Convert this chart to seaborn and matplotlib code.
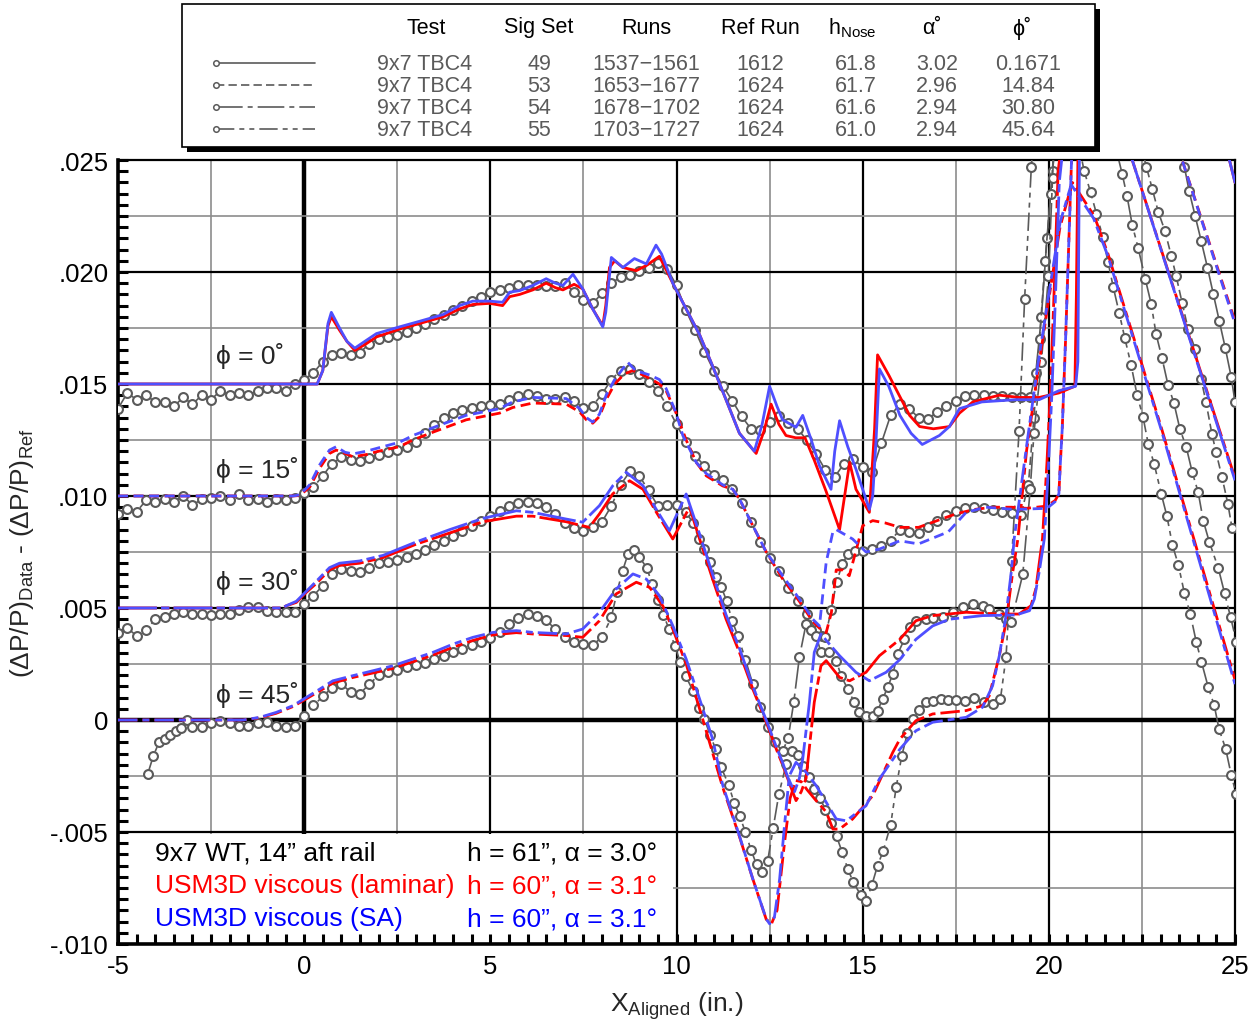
import numpy as np
import matplotlib
matplotlib.use("Agg")
import matplotlib.pyplot as plt
import seaborn as sns
from matplotlib.patches import Rectangle
from matplotlib.ticker import MultipleLocator, FixedLocator, FixedFormatter

sns.set_theme(style="white")
plt.rcParams["font.family"] = ["Liberation Sans", "DejaVu Sans"]
plt.rcParams["mathtext.fontset"] = "custom"
plt.rcParams["mathtext.rm"] = "Liberation Sans"
plt.rcParams["mathtext.it"] = "Liberation Sans:italic"

# values are dP/P in units of 1e-3, already shifted by the phi offset shown on the chart
# 9x7 TBC4 wind tunnel data, one list per roll angle
test_0 = [(-5.0,13.9),(-4.75,14.6),(-4.5,14.3),(-4.25,14.5),(-4.0,14.2),(-3.75,14.2),(-3.5,14.0),(-3.25,14.4),(-3.0,14.1),(-2.75,14.5),
          (-2.5,14.3),(-2.25,14.7),(-2.0,14.5),(-1.75,14.6),(-1.5,14.5),(-1.25,14.7),(-1.0,14.8),(-0.75,14.8),(-0.5,14.7),(-0.25,15.0),
          (0.0,15.2),(0.25,15.5),(0.5,16.0),(0.75,16.3),(1.0,16.4),(1.25,16.3),(1.5,16.4),(1.75,16.8),(2.0,17.0),(2.25,17.1),
          (2.5,17.2),(2.75,17.3),(3.0,17.5),(3.25,17.7),(3.5,17.9),(3.75,18.1),(4.0,18.3),(4.25,18.5),(4.5,18.7),(4.75,18.9),
          (5.0,19.1),(5.25,19.2),(5.5,19.3),(5.75,19.4),(6.0,19.42),(6.25,19.4),(6.5,19.38),(6.75,19.37),(7.0,19.5),(7.25,19.1),
          (7.5,18.75),(7.75,18.6),(8.0,19.05),(8.25,19.5),(8.5,19.78),(8.75,19.88),(9.0,20.05),(9.25,20.2),(9.5,20.4),(9.75,20.15),
          (10.0,19.4),(10.25,18.3),(10.5,17.4),(10.75,16.45),(11.0,15.6),(11.25,14.9),(11.5,14.25),(11.75,13.55),(12.0,13.0),(12.25,12.95),
          (12.5,13.3),(12.75,13.55),(13.0,13.28),(13.25,13.0),(13.5,12.5),(13.75,11.88),(14.0,11.15),(14.25,10.85),(14.5,11.45),(14.75,11.63),
          (15.0,11.3),(15.25,11.05),(15.5,12.35),(15.75,13.6),(16.0,14.1),(16.25,13.9),(16.5,13.5),(16.75,13.44),(17.0,13.75),(17.25,14.0),
          (17.5,14.25),(17.75,14.45),(18.0,14.52),(18.25,14.53),(18.5,14.48),(18.75,14.46),(19.0,14.42),(19.25,14.4),(19.5,14.4),
          (19.65,15.5),(19.8,18.0),(19.95,21.5),(20.1,24.5),(20.3,28.0),(21.5,40.0),
          (23.64,24.7),(23.77,23.6),(23.93,22.5),(24.09,21.4),(24.26,20.2),(24.42,19.0),(24.58,17.8),(24.74,16.6),(24.9,15.3),(25.0,14.2)]

test_15 = [(-5.0,9.2),(-4.75,9.4),(-4.5,9.3),(-4.25,9.8),(-4.0,9.75),(-3.75,9.85),(-3.5,9.75),(-3.25,10.0),(-3.0,9.6),(-2.75,9.85),
           (-2.5,9.9),(-2.25,10.0),(-2.0,9.8),(-1.75,10.1),(-1.5,9.8),(-1.25,9.85),(-1.0,9.75),(-0.75,9.85),(-0.5,9.8),(-0.25,9.9),
           (0.0,10.15),(0.25,10.4),(0.5,10.9),(0.75,11.45),(1.0,11.72),(1.25,11.6),(1.5,11.55),(1.75,11.7),(2.0,11.85),(2.25,11.95),
           (2.5,12.05),(2.75,12.2),(3.0,12.4),(3.25,12.8),(3.5,13.15),(3.75,13.5),(4.0,13.7),(4.25,13.85),(4.5,13.95),(4.75,14.0),
           (5.0,14.05),(5.25,14.1),(5.5,14.3),(5.75,14.45),(6.0,14.55),(6.25,14.45),(6.5,14.35),(6.75,14.33),(7.0,14.4),(7.25,14.22),
           (7.5,13.95),(7.75,14.03),(8.0,14.55),(8.25,15.2),(8.5,15.6),(8.75,15.65),(9.0,15.45),(9.25,15.1),(9.5,14.7),(9.75,14.0),
           (10.0,13.2),(10.25,12.4),(10.5,11.8),(10.75,11.35),(11.0,10.95),(11.25,10.7),(11.5,10.3),(11.75,9.7),(12.0,8.85),(12.25,7.95),
           (12.5,7.25),(12.75,6.65),(13.0,5.9),(13.25,5.3),(13.5,4.75),(13.75,4.0),(13.9,3.75),(14.0,3.7),(14.15,4.9),(14.3,6.15),
           (14.45,6.95),(14.6,7.4),(14.8,7.56),(15.0,7.56),(15.25,7.63),(15.5,7.75),(15.75,8.0),(16.0,8.5),(16.25,8.4),(16.5,8.35),
           (16.75,8.6),(17.0,8.9),(17.25,9.15),(17.5,9.35),(17.75,9.48),(18.0,9.5),(18.25,9.45),(18.5,9.38),(18.75,9.28),(19.0,9.22),(19.25,9.15),
           (19.45,10.5),(19.6,13.5),(19.75,17.0),(19.9,20.5),(20.05,23.5),(20.2,27.0),(21.0,36.0),
           (22.62,24.69),(22.78,23.7),(22.94,22.68),(23.12,21.83),(23.29,20.71),(23.42,19.82),(23.58,18.62),(23.74,17.46),
           (23.93,16.56),(24.09,15.22),(24.22,14.2),(24.38,12.77),(24.49,11.96),(24.65,10.85),(24.81,9.64),(24.92,8.57)]

test_30 = [(-5.0,3.9),(-4.75,4.1),(-4.5,3.76),(-4.25,4.0),(-4.0,4.5),(-3.75,4.6),(-3.5,4.75),(-3.25,4.8),(-3.0,4.73),(-2.75,4.75),
           (-2.5,4.7),(-2.25,4.73),(-2.0,4.75),(-1.75,4.9),(-1.5,5.05),(-1.25,5.05),(-1.0,4.85),(-0.75,4.8),(-0.5,4.8),(-0.25,4.81),
           (0.0,5.2),(0.25,5.55),(0.5,6.0),(0.75,6.5),(1.0,6.74),(1.25,6.65),(1.5,6.6),(1.75,6.8),(2.0,7.0),(2.25,7.07),
           (2.5,7.15),(2.75,7.28),(3.0,7.4),(3.25,7.6),(3.5,7.8),(3.75,8.0),(4.0,8.2),(4.25,8.45),(4.5,8.65),(4.75,8.9),
           (5.0,9.1),(5.25,9.34),(5.5,9.55),(5.75,9.7),(6.0,9.75),(6.25,9.7),(6.5,9.5),(6.75,9.2),(7.0,8.8),(7.25,8.55),
           (7.5,8.45),(7.75,8.6),(8.0,8.85),(8.25,9.55),(8.5,10.5),(8.75,11.1),(9.0,10.9),(9.25,10.25),(9.5,9.55),(9.75,9.58),
           (10.0,9.6),(10.25,9.27),(10.45,8.8),(10.6,8.1),(10.75,7.63),(10.9,7.04),(11.05,6.4),(11.2,5.95),(11.35,5.3),(11.5,4.4),
           (11.65,3.76),(11.85,2.7),(12.05,1.6),(12.25,0.6),(12.45,-0.3),(12.65,-1.0),(12.85,-1.4),(13.0,-0.8),(13.15,0.8),(13.3,2.8),
           (13.48,4.29),(13.62,4.0),(13.75,3.76),(13.88,3.02),(14.1,3.02),(14.29,2.65),(14.42,1.98),(14.6,1.38),(14.78,0.79),(14.91,0.34),
           (15.09,0.19),(15.27,0.19),(15.4,0.42),(15.54,0.94),(15.67,1.46),(15.81,2.05),(15.94,2.95),(16.12,3.6),(16.26,4.14),(16.43,4.43),
           (16.7,4.5),(16.9,4.55),(17.15,4.58),(17.42,4.81),(17.69,5.03),(17.96,5.18),(18.22,5.1),(18.4,4.96),(18.67,4.73),(18.85,4.51),(18.99,4.39),
           (19.3,6.5),(19.5,10.3),(19.6,12.8),(19.8,16.0),(19.99,19.8),(20.1,24.2),(20.2,28.0),(20.7,33.0),
           (21.97,24.38),(22.1,23.39),(22.24,22.1),(22.4,21.07),(22.59,19.69),(22.75,18.57),(22.88,17.23),(23.04,16.16),(23.2,14.96),(23.36,14.15),
           (23.52,12.99),(23.69,12.19),(23.85,11.07),(24.01,10.18),(24.15,8.88),(24.31,7.95),(24.55,6.79),(24.72,5.67),(24.88,4.6),(25.04,3.48)]

test_45 = [(-4.2,-2.4),(-4.05,-1.6),(-3.9,-1.0),(-3.75,-0.85),(-3.6,-0.65),(-3.45,-0.5),(-3.3,-0.35),(-3.15,0.0),(-3.0,-0.3),(-2.75,-0.3),
           (-2.5,-0.15),(-2.25,-0.05),(-2.0,-0.15),(-1.75,-0.25),(-1.5,-0.25),(-1.25,-0.15),(-1.0,-0.1),(-0.75,-0.25),(-0.5,-0.3),(-0.25,-0.25),
           (0.0,0.2),(0.25,0.65),(0.5,1.05),(0.75,1.45),(1.0,1.6),(1.25,1.25),(1.5,1.18),(1.75,1.6),(2.0,2.0),(2.25,2.15),
           (2.5,2.25),(2.75,2.35),(3.0,2.45),(3.25,2.55),(3.5,2.72),(3.75,2.87),(4.0,3.02),(4.25,3.18),(4.5,3.33),(4.75,3.5),
           (5.0,3.65),(5.25,3.91),(5.5,4.27),(5.75,4.55),(6.0,4.72),(6.25,4.65),(6.5,4.45),(6.75,4.05),(7.0,3.7),(7.25,3.5),
           (7.5,3.4),(7.75,3.35),(8.0,3.7),(8.25,4.58),(8.4,5.7),(8.55,6.65),(8.7,7.42),(8.85,7.6),(9.0,7.28),(9.2,6.8),
           (9.35,6.05),(9.5,5.35),(9.65,4.7),(9.8,4.05),(9.95,3.32),(10.1,2.6),(10.25,1.95),(10.45,1.28),(10.6,0.55),(10.75,0.04),
           (10.9,-0.65),(11.05,-1.3),(11.2,-2.11),(11.4,-2.9),(11.55,-3.7),(11.7,-4.3),(11.85,-5.0),(12.0,-5.8),(12.15,-6.45),(12.3,-6.8),
           (12.45,-6.28),(12.6,-4.8),(12.75,-3.3),(12.95,-1.95),(13.1,-1.4),(13.25,-1.58),(13.4,-2.05),(13.55,-2.55),(13.7,-3.1),(13.85,-3.48),
           (14.0,-4.0),(14.15,-4.6),(14.3,-5.2),(14.45,-5.9),(14.6,-6.65),(14.75,-7.25),(14.95,-7.82),(15.1,-8.07),(15.25,-7.35),(15.4,-6.5),
           (15.55,-5.85),(15.75,-4.7),(15.9,-3.0),(16.05,-1.6),(16.2,-0.6),(16.35,0.05),(16.5,0.45),(16.7,0.79),(16.9,0.86),(17.1,0.94),
           (17.3,0.9),(17.5,0.88),(17.75,0.86),(18.0,1.0),(18.25,0.82),(18.5,0.71),(18.7,0.94),(18.85,2.8),(19.0,7.1),(19.2,12.9),
           (19.35,18.8),(19.53,24.7),(19.7,28.5),(20.15,31.0),
           (20.95,24.5),(21.12,23.57),(21.28,22.6),(21.45,21.56),(21.59,20.45),(21.73,19.33),(21.89,18.17),(22.04,17.05),(22.21,15.85),
           (22.37,14.51),(22.53,13.53),(22.67,12.32),(22.83,11.43),(23.02,10.09),(23.17,9.11),(23.32,7.81),(23.48,6.92),(23.64,5.67),
           (23.8,4.73),(23.96,3.48),(24.1,2.59),(24.28,1.47),(24.44,0.67),(24.57,-0.4),(24.75,-1.29),(24.9,-2.46),(25.03,-3.3)]

# USM3D viscous, laminar (red)
lam_0 = [(-5.0,15.0),(0.35,15.0),(0.5,15.6),(0.64,17.6),(0.73,18.0),(0.95,17.4),(1.15,16.9),(1.36,16.5),(1.67,16.8),(1.94,17.1),
         (2.56,17.45),(3.1,17.7),(3.73,18.0),(4.17,18.35),(4.53,18.55),(4.98,18.6),(5.33,18.5),(5.52,18.9),(5.79,19.0),(6.14,19.2),
         (6.5,19.5),(6.75,19.3),(6.95,19.2),(7.25,19.45),(7.48,19.25),(7.75,18.35),(8.02,17.6),(8.1,18.5),(8.2,20.2),(8.34,20.5),
         (8.56,20.2),(8.92,20.06),(9.2,20.3),(9.54,20.7),(9.9,19.5),(10.26,18.35),(10.62,17.2),(10.97,15.8),(11.33,14.3),(11.69,12.8),
         (12.14,11.9),(12.35,12.9),(12.54,14.1),(12.75,13.2),(12.94,12.7),(13.2,12.6),(13.45,12.6),(13.7,11.6),(14.02,10.2),(14.38,8.5),
         (14.65,11.5),(14.82,10.3),(15.18,9.27),(15.32,13.0),(15.4,16.3),(15.7,15.4),(15.98,14.5),(16.26,13.6),(16.53,13.1),(16.9,13.0),
         (17.33,13.1),(17.6,13.7),(17.96,14.2),(18.67,14.5),(19.2,14.4),(19.74,14.4),(20.27,14.6),(20.7,14.9),(20.74,19.0),(20.78,25.0),
         (20.85,30.0),(22.8,36.0),(24.85,25.0),(25.0,24.0)]
lam_15 = [(-5.0,10.0),(-0.3,10.0),(-0.12,10.02),(0.15,10.4),(0.42,11.25),(0.68,11.9),(0.86,12.05),(1.1,11.9),(1.31,11.75),(1.67,11.85),
          (2.0,12.0),(2.56,12.2),(2.92,12.5),(3.46,12.85),(4.35,13.4),(5.25,13.7),(5.6,13.95),(6.14,14.15),(7.04,14.1),(7.4,13.75),
          (7.58,13.4),(7.75,13.25),(7.93,13.55),(8.11,14.3),(8.34,15.0),(8.6,15.45),(8.83,15.6),(9.1,15.4),(9.28,15.25),(9.54,15.0),
          (9.72,14.7),(9.99,13.7),(10.26,12.5),(10.53,11.5),(10.8,10.9),(11.24,10.45),(11.51,10.3),(11.69,9.87),(11.96,8.97),(12.41,7.5),
          (12.85,6.3),(13.3,5.3),(13.66,4.4),(13.9,4.0),(14.02,3.9),(14.16,4.8),(14.29,6.7),(14.46,6.7),(14.64,6.44),(15.0,8.67),
          (15.27,8.9),(15.6,8.8),(16.0,8.6),(16.5,8.6),(17.0,8.9),(17.5,9.2),(18.0,9.4),(18.5,9.5),(19.0,9.5),(19.4,9.45),
          (19.95,9.55),(20.17,9.8),(20.27,10.1),(20.31,11.5),(20.36,13.0),(20.45,17.0),(20.55,22.0),(20.65,27.0),(21.6,35.0),(23.58,25.0),(25.0,17.8)]
lam_30 = [(-5.0,5.0),(-0.6,5.0),(-0.48,5.1),(-0.21,5.25),(0.06,5.7),(0.33,6.1),(0.68,6.7),(0.95,6.9),(1.49,7.0),(2.12,7.25),
          (3.01,7.85),(3.91,8.35),(4.8,8.85),(5.7,9.1),(6.14,9.1),(7.04,8.85),(7.4,8.7),(7.66,8.6),(7.93,9.2),(8.29,10.1),
          (8.74,10.68),(9.1,10.3),(9.45,9.3),(9.9,8.08),(10.35,9.5),(10.62,8.08),(10.97,6.29),(11.33,4.51),(11.69,3.02),(12.05,1.38),
          (12.41,-0.1),(12.68,-1.3),(12.85,-2.0),(13.05,-2.9),(13.21,-3.6),(13.35,-3.2),(13.48,-2.6),(13.7,0.79),(13.88,2.42),(14.02,2.65),
          (14.38,1.9),(14.65,1.75),(15.09,2.13),(15.45,2.87),(16.0,3.6),(16.43,4.43),(16.88,4.66),(17.78,4.81),(18.67,4.73),(19.2,4.73),
          (19.52,5.1),(19.65,5.85),(19.83,8.1),(19.95,11.5),(20.05,15.0),(20.15,19.5),(20.25,24.5),(20.8,32.0),(22.24,25.0),(25.0,10.8)]
lam_45 = [(-5.0,0.0),(-1.64,0.0),(-1.19,0.1),(-0.75,0.3),(-0.3,0.6),(0.06,0.95),(0.42,1.3),(0.77,1.65),(1.31,1.9),(1.85,2.1),
          (2.38,2.3),(2.92,2.6),(3.46,2.9),(4.0,3.25),(4.53,3.55),(5.07,3.8),(5.7,3.9),(6.14,3.84),(7.04,3.77),(7.48,3.69),
          (7.93,4.43),(8.38,5.63),(8.92,6.15),(9.28,5.92),(9.63,5.1),(9.9,4.06),(10.26,2.5),(10.8,-0.5),(11.24,-3.0),(11.69,-5.2),
          (12.05,-7.1),(12.41,-8.9),(12.55,-9.1),(12.7,-8.5),(12.9,-5.5),(13.05,-3.5),(13.2,-2.7),(13.35,-2.75),(13.5,-3.1),(13.75,-3.6),
          (14.02,-4.1),(14.2,-4.87),(14.38,-4.87),(14.73,-4.42),(15.27,-3.38),(15.81,-1.44),(16.0,-0.85),(16.43,-0.03),(16.88,0.27),(17.78,0.42),
          (18.22,0.64),(18.4,1.08),(18.67,2.87),(18.85,4.36),(19.03,6.6),(19.17,8.1),(19.4,12.0),(19.7,15.5),(20.0,18.8),(20.3,22.0),
          (20.63,24.0),(21.22,22.5),(21.59,20.8),(23.03,13.0),(25.0,1.8)]

# USM3D viscous, SA turbulence model (blue)
sa_0 = [(-5.0,15.0),(0.35,15.0),(0.5,15.6),(0.64,17.7),(0.73,18.2),(0.95,17.5),(1.15,16.9),(1.36,16.6),(1.67,16.95),(1.94,17.25),
        (2.56,17.55),(3.1,17.8),(3.73,18.1),(4.17,18.5),(4.53,18.7),(4.98,18.7),(5.33,18.65),(5.52,19.1),(5.79,19.17),(6.14,19.4),
        (6.5,19.7),(6.75,19.5),(6.95,19.4),(7.22,19.9),(7.48,19.25),(7.75,18.35),(8.02,17.55),(8.1,18.2),(8.25,20.65),(8.56,20.2),
        (8.87,20.6),(9.19,20.36),(9.45,21.2),(9.6,20.8),(9.9,19.5),(10.26,18.35),(10.62,17.2),(10.97,15.8),(11.33,14.3),(11.69,12.8),
        (12.09,12.0),(12.3,13.2),(12.5,14.9),(12.7,14.0),(12.85,13.4),(13.21,13.07),(13.39,13.6),(13.6,12.6),(13.84,11.35),(14.15,10.3),
        (14.25,12.0),(14.38,13.36),(14.6,12.2),(14.82,11.2),(15.18,9.4),(15.27,10.0),(15.36,12.5),(15.45,15.67),(15.7,14.9),(16.0,13.6),
        (16.3,12.8),(16.6,12.3),(17.06,12.7),(17.33,13.1),(17.6,13.9),(18.2,14.2),(19.1,14.3),(19.74,14.3),(20.27,14.7),(20.72,14.9),
        (20.78,16.0),(20.82,25.0),(20.86,30.0),(22.8,36.0),(24.85,25.0),(25.0,24.0)]
sa_15 = [(-5.0,10.0),(-0.3,10.0),(-0.12,10.05),(0.15,10.5),(0.42,11.4),(0.68,12.05),(0.86,12.2),(1.1,11.95),(1.31,11.88),(1.67,12.0),
         (2.0,12.15),(2.56,12.4),(2.92,12.7),(3.46,13.05),(4.35,13.6),(5.25,13.9),(5.6,14.2),(6.14,14.4),(7.04,14.35),(7.4,13.9),
         (7.58,13.5),(7.75,13.3),(7.93,13.65),(8.11,14.5),(8.34,15.2),(8.69,15.97),(8.9,15.6),(9.28,15.4),(9.54,15.2),(9.72,14.8),
         (9.99,13.7),(10.17,12.7),(10.53,11.5),(10.8,11.0),(11.24,10.5),(11.51,10.3),(11.69,9.87),(11.96,8.97),(12.41,7.5),(12.85,6.44),
         (13.3,5.4),(13.66,4.5),(13.84,4.2),(14.02,7.04),(14.2,8.4),(14.29,8.5),(14.5,8.3),(14.73,8.08),(15.09,7.5),(15.45,7.63),
         (16.0,8.0),(16.5,7.86),(17.3,8.4),(17.78,9.27),(18.3,9.5),(19.1,9.4),(19.95,9.45),(20.17,9.75),(20.27,10.1),(20.31,11.5),
         (20.36,13.0),(20.45,17.0),(20.55,22.0),(20.65,27.0),(21.6,35.0),(23.58,25.0),(25.0,17.7)]
sa_30 = [(-5.0,5.0),(-0.6,5.0),(-0.48,5.1),(-0.21,5.3),(0.06,5.75),(0.33,6.2),(0.68,6.8),(0.95,7.0),(1.49,7.1),(2.12,7.35),
         (3.01,7.95),(3.91,8.5),(4.8,9.0),(5.7,9.34),(6.14,9.27),(7.04,8.97),(7.48,8.83),(7.93,9.57),(8.29,10.46),(8.65,11.06),
         (9.1,10.46),(9.45,9.42),(9.81,8.45),(10.26,10.09),(10.62,8.3),(10.97,6.5),(11.33,4.7),(11.69,3.2),(12.05,1.5),(12.41,0.0),
         (12.68,-1.2),(12.85,-1.9),(13.0,-2.6),(13.17,-3.2),(13.3,-2.6),(13.39,-1.74),(13.57,0.79),(13.7,3.02),(13.88,3.84),(14.1,3.4),
         (14.38,2.87),(14.82,2.13),(15.18,1.75),(15.63,2.13),(16.0,2.7),(16.43,3.6),(16.88,4.2),(17.33,4.5),(18.22,4.66),(19.12,4.69),
         (19.48,4.88),(19.61,5.4),(19.74,6.6),(19.88,8.1),(19.98,11.0),(20.08,14.5),(20.18,19.0),(20.28,24.0),(20.8,32.0),(22.24,25.0),(25.0,10.7)]
sa_45 = [(-5.0,0.0),(-1.64,0.0),(-1.19,0.12),(-0.75,0.34),(-0.3,0.64),(0.06,1.01),(0.42,1.38),(0.77,1.75),(1.31,1.98),(1.85,2.2),
         (2.38,2.42),(2.92,2.72),(3.46,3.02),(4.0,3.39),(4.53,3.69),(5.07,3.91),(5.7,3.99),(6.14,3.91),(7.04,3.84),(7.48,4.06),
         (7.93,4.81),(8.38,5.85),(8.83,6.52),(9.19,6.29),(9.54,5.55),(9.9,4.21),(10.26,2.72),(10.62,0.94),(10.97,-0.85),(11.24,-2.9),
         (11.69,-5.17),(12.05,-7.1),(12.41,-8.88),(12.5,-9.1),(12.63,-8.8),(12.77,-7.1),(12.9,-4.72),(13.03,-2.49),(13.21,-1.89),(13.48,-2.33),
         (13.75,-2.93),(14.02,-3.67),(14.29,-4.42),(14.56,-4.5),(15.09,-3.83),(15.45,-2.63),(16.0,-1.3),(16.43,-0.48),(16.88,-0.1),(17.78,0.12),
         (18.22,0.57),(18.49,1.53),(18.67,2.87),(18.85,4.66),(18.99,6.6),(19.07,8.1),(19.4,12.2),(19.7,15.8),(20.0,19.0),(20.3,22.2),
         (20.6,23.9),(21.2,22.4),(21.59,20.7),(23.03,12.9),(25.0,1.6)]

# legend table
leg_test = ["9x7 TBC4", "9x7 TBC4", "9x7 TBC4", "9x7 TBC4"]
leg_sig = ["49", "53", "54", "55"]
leg_runs = ["1537\u22121561", "1653\u22121677", "1678\u22121702", "1703\u22121727"]
leg_ref = ["1612", "1624", "1624", "1624"]
leg_h = ["61.8", "61.7", "61.6", "61.0"]
leg_alpha = ["3.02", "2.96", "2.94", "2.94"]
leg_phi = ["0.1671", "14.84", "30.80", "45.64"]

phi_labels = ["\u03d5 = 0\u02da", "\u03d5 = 15\u02da", "\u03d5 = 30\u02da", "\u03d5 = 45\u02da"]

GRAY = "#5a5a5a"
RED = "#ff0000"
BLUE = "#4f4fff"
test_styles = ["-", (0, (5, 2.5)), (0, (16, 3, 3, 3)), (0, (11, 3, 3, 3, 3, 3))]
cfd_styles = ["-", (0, (3.6, 2.0)), (0, (14, 1.5, 3, 1.5)), (0, (7, 1.8, 2.5, 1.8))]

fig = plt.figure(figsize=(12.56, 10.2), dpi=100)
ax = fig.add_axes([118 / 1256, 75 / 1020, 1117 / 1256, 784 / 1020])
ax.set_axisbelow(False)


def draw(pts, **kw):
    xs, ys = zip(*pts)
    sns.lineplot(x=np.array(xs), y=np.array(ys) / 1000.0, estimator=None, sort=False,
                 ax=ax, legend=False, **kw)


for pts, ls in zip([test_0, test_15, test_30, test_45], test_styles):
    draw(pts, color=GRAY, lw=1.2, linestyle=ls, marker="o", markersize=6.4,
         markerfacecolor="white", markeredgecolor=GRAY, markeredgewidth=1.5, zorder=3)
for pts, ls in zip([lam_0, lam_15, lam_30, lam_45], cfd_styles):
    draw(pts, color=RED, lw=2.0, linestyle=ls, zorder=4)
for pts, ls in zip([sa_0, sa_15, sa_30, sa_45], cfd_styles):
    draw(pts, color=BLUE, lw=2.0, linestyle=ls, zorder=5)

# grid
for v in [-2.5, 2.5, 7.5, 12.5, 17.5, 22.5]:
    ax.axvline(v, color="#8c8c8c", lw=1.2, zorder=1)
for v in [5, 10, 15, 20]:
    ax.axvline(v, color="black", lw=1.6, zorder=1)
ax.axvline(0, color="black", lw=3.2, zorder=1)
for v in [0.0225, 0.0175, 0.0125, 0.0075, 0.0025, -0.0025, -0.0075]:
    ax.axhline(v, color="#8c8c8c", lw=1.2, zorder=1)
for v in [0.020, 0.015, 0.010, 0.005, -0.005]:
    ax.axhline(v, color="black", lw=1.6, zorder=1)
ax.axhline(0, color="black", lw=3.2, zorder=1)

# white panel under the text key
ax.add_patch(Rectangle((-5, -0.010), 14.9, 0.00493, facecolor="white", edgecolor="none", zorder=1.5))

ax.set_xlim(-5, 25)
ax.set_ylim(-0.010, 0.025)
ax.xaxis.set_major_locator(FixedLocator([-5, 0, 5, 10, 15, 20, 25]))
ax.xaxis.set_major_formatter(FixedFormatter(["-5", "0", "5", "10", "15", "20", "25"]))
ax.xaxis.set_minor_locator(MultipleLocator(0.5))
yt = [-0.010, -0.005, 0.0, 0.005, 0.010, 0.015, 0.020, 0.025]
ax.yaxis.set_major_locator(FixedLocator(yt))
ax.yaxis.set_major_formatter(FixedFormatter(["-.010", "-.005", "0", ".005", ".010", ".015", ".020", ".025"]))
ax.yaxis.set_minor_locator(MultipleLocator(0.0005))
ax.tick_params(which="both", direction="in", length=7, width=2.2, top=False, right=False,
               left=True, bottom=True, colors="black", labelsize=18.5, pad=7)
for side in ["left", "bottom"]:
    ax.spines[side].set_linewidth(2.6)
for side in ["top", "right"]:
    ax.spines[side].set_linewidth(1.6)
for s in ax.spines.values():
    s.set_color("black")

ax.set_xlabel("X$_{\\mathrm{Aligned}}$ (in.)", fontsize=19, labelpad=8)
ax.set_ylabel("(\u0394P/P)$_{\\mathrm{Data}}$ - (\u0394P/P)$_{\\mathrm{Ref}}$", fontsize=19, labelpad=10)

for lab, yv in zip(phi_labels, [16.3, 11.2, 6.2, 1.16]):
    ax.text(-2.38, yv / 1000, lab, fontsize=19, ha="left", va="center", zorder=6)

key_rows = [("9x7 WT, 14\u201d aft rail", "h = 61\u201d, \u03b1 = 3.0\u00b0", "black"),
            ("USM3D viscous (laminar)", "h = 60\u201d, \u03b1 = 3.1\u00b0", "#ff0000"),
            ("USM3D viscous (SA)", "h = 60\u201d, \u03b1 = 3.1\u00b0", "#0000ff")]
for (left, right, c), yv in zip(key_rows, [-5.9, -7.37, -8.84]):
    ax.text(-4.0, yv / 1000, left, color=c, fontsize=19, va="center", zorder=6)
    ax.text(4.36, yv / 1000, right, color=c, fontsize=19, va="center", zorder=6)

# legend table box with drop shadow
fig.patches.append(Rectangle((187 / 1256, 1 - 153 / 1020), 913 / 1256, 143 / 1020,
                             transform=fig.transFigure, facecolor="black", edgecolor="none", zorder=0))
fig.patches.append(Rectangle((182 / 1256, 1 - 148 / 1020), 913 / 1256, 143 / 1020,
                             transform=fig.transFigure, facecolor="white", edgecolor="black", lw=1.2, zorder=0.5))
lax = fig.add_axes([182 / 1256, 1 - 148 / 1020, 913 / 1256, 143 / 1020])
lax.set_zorder(2)
lax.patch.set_alpha(0)
lax.set_xlim(182, 1095)
lax.set_ylim(148, 5)
lax.axis("off")

heads = ["Test", "Sig Set", "Runs", "Ref Run", "h$_{\\mathrm{Nose}}$", "\u03b1\u02da", "\u03d5\u02da"]
head_x = [426, 539, 646, 760, 852, 932, 1022]
for h, hx in zip(heads, head_x):
    lax.text(hx, 28, h, fontsize=15.5, ha="center", va="center", color="black")
cols = [leg_test, leg_sig, leg_runs, leg_ref, leg_h, leg_alpha, leg_phi]
col_x = [425, 539, 646, 760, 856, 937, 1028]
row_y = [64, 86, 108, 130]
for i, yy in enumerate(row_y):
    lax.plot([216, 315], [yy, yy], color=GRAY, lw=1.2, linestyle=test_styles[i])
    lax.plot([216], [yy], marker="o", markersize=4, markerfacecolor="white",
             markeredgecolor=GRAY, markeredgewidth=1.1)
    for col, cx in zip(cols, col_x):
        lax.text(cx, yy, col[i], fontsize=15.5, ha="center", va="center", color=GRAY)

fig.savefig("out.png", dpi=100)
